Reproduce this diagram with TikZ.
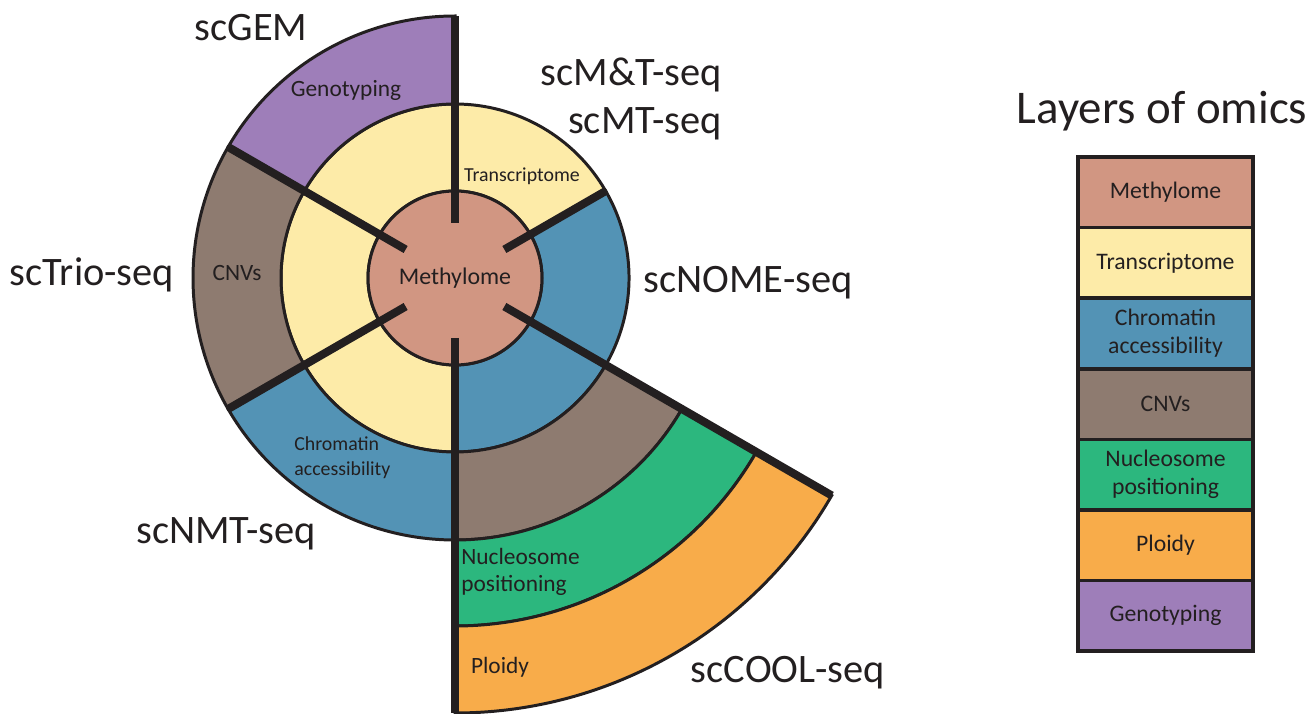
\documentclass[tikz,border=0pt]{standalone}
\usepackage{fontspec}
\setmainfont{Carlito}
\usetikzlibrary{positioning}
\definecolor{ink}{RGB}{35,31,32}
\definecolor{methyl}{RGB}{209,150,130}
\definecolor{transc}{RGB}{253,235,168}
\definecolor{chrom}{RGB}{83,147,181}
\definecolor{cnv}{RGB}{142,123,112}
\definecolor{nucl}{RGB}{44,183,126}
\definecolor{ploid}{RGB}{248,172,74}
\definecolor{geno}{RGB}{158,126,185}
\tikzset{
  ring/.style={draw=ink, line width=1.7pt},
  spoke/.style={draw=ink, line width=4.6pt},
  assay/.style={text=ink, inner sep=0pt, font=\fontsize{23}{27}\selectfont},
  layer/.style={text=ink, inner sep=0pt, font=\fontsize{13.3}{15.3}\selectfont},
  smalllayer/.style={layer, font=\fontsize{11.3}{14.2}\selectfont},
  legbox/.style={draw=ink, line width=2pt, minimum width=3.5cm, minimum height=1.412cm,
    outer sep=0pt, inner sep=1pt, align=center, text=ink, font=\fontsize{13.5}{15.9}\selectfont},
}
\begin{document}
\begin{tikzpicture}[x=0.02cm, y=0.02cm]
\useasboundingbox (0,0) rectangle (1314,713);

% wheel of omics layers
\begin{scope}[shift={(455,435)}]
  \foreach \a/\b/\ri/\ro/\col in {30/270/87/174/transc, 270/390/87/174/chrom,
      90/150/174/262/geno, 150/210/174/262/cnv, 210/270/174/262/chrom, 270/330/174/262/cnv,
      270/330/262/348/nucl, 270/330/348/435/ploid}
    \filldraw[ring, fill=\col] (\a:\ri) arc[start angle=\a, end angle=\b, radius=\ri]
      -- (\b:\ro) arc[start angle=\b, end angle=\a, radius=\ro] -- cycle;
  \node[ring, circle, fill=methyl, minimum size=3.48cm, inner sep=0pt, text=ink,
    font=\fontsize{13.6}{16}\selectfont] (meth) at (0,0) {Methylome};
  \foreach \a/\rs/\re in {90/55/262, 150/57/263, 210/57/262, 270/60/435, 330/57/435, 30/57/174}
    \draw[spoke] (\a:\rs) -- (\a:\re);
\end{scope}

% layer labels in the wheel
\node[layer] (geno) at (346,623) {Genotyping};
\node[smalllayer] (trans) at (522,537) {Transcriptome};
\node[layer] (cnvs) at (237,440) {CNVs};
\node[smalllayer, align=left, anchor=west] (chrom) at (294,255) {Chromatin\\accessibility};
\node[layer, align=left, anchor=west] (nucl) at (461,141) {Nucleosome\\positioning};
\node[layer] (ploid) at (500,46) {Ploidy};

% methods
\node[assay] (scgem) at (251,685) {scGEM};
\node[assay, align=right, anchor=east, font=\fontsize{23}{27.5}\selectfont] (scmt) at (722,614) {scM\&T-seq\\scMT-seq};
\node[assay] (scnome) at (748,430) {scNOME-seq};
\node[assay] (sctrio) at (92,438) {scTrio-seq};
\node[assay] (scnmt) at (226,179) {scNMT-seq};
\node[assay] (sccool) at (788,40) {scCOOL-seq};

% legend
\node[assay, font=\fontsize{26.7}{30}\selectfont] (title) at (1162,602) {Layers of omics};
\node[legbox, fill=methyl] (l1) at (1165.5,520.7) {Methylome};
\node[legbox, fill=transc, below=0pt of l1] (l2) {Transcriptome};
\node[legbox, fill=chrom, below=0pt of l2] (l3) {Chromatin\\accessibility};
\node[legbox, fill=cnv, below=0pt of l3] (l4) {CNVs};
\node[legbox, fill=nucl, below=0pt of l4] (l5) {Nucleosome\\positioning};
\node[legbox, fill=ploid, below=0pt of l5] (l6) {Ploidy};
\node[legbox, fill=geno, below=0pt of l6] (l7) {Genotyping};
\end{tikzpicture}
\end{document}
